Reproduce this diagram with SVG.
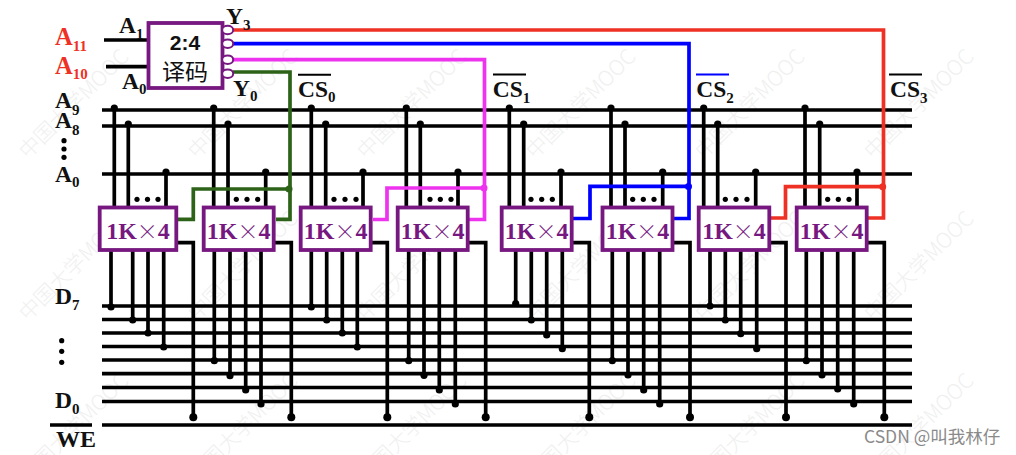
<svg xmlns="http://www.w3.org/2000/svg" width="1016" height="455" viewBox="0 0 1016 455">
<style>
.l{font-family:"Liberation Serif","Times New Roman",serif;font-weight:bold;fill:#111}
.a{font-size:23.5px}.s{font-size:15px}
.r{fill:#ee3124;font-size:24.5px}
.m{fill:#fff;stroke:#76187f;stroke-width:3.8}
.mt{font-family:"Liberation Serif",serif;font-weight:bold;font-size:24px;fill:#76187f;text-anchor:middle}
.x{font-family:"Noto Sans CJK SC",sans-serif;font-weight:300;font-size:21px}
.k{fill:none;stroke:#000;stroke-width:3.7}
.c{fill:none;stroke-width:3.7}
.d{fill:#000}
.wm{font-family:"Noto Sans CJK SC",sans-serif;font-weight:300;font-size:21px;fill:#f0f0f0}
</style>
<defs>
<text id="w" class="wm" transform="rotate(-45)">中国大学MOOC</text>
<circle id="p" r="3.6" class="d"/>
<circle id="q" r="4" class="d"/>
<circle id="e" r="2.6" class="d"/>
</defs>
<rect width="1016" height="455" fill="#fff"/>
<g id="watermark">
<use href="#w" transform="translate(28,160)"/><use href="#w" transform="translate(197,160)"/><use href="#w" transform="translate(366,160)"/><use href="#w" transform="translate(535,160)"/><use href="#w" transform="translate(704,160)"/><use href="#w" transform="translate(873,160)"/>
<use href="#w" transform="translate(28,322)"/><use href="#w" transform="translate(197,322)"/><use href="#w" transform="translate(366,322)"/><use href="#w" transform="translate(535,322)"/><use href="#w" transform="translate(704,322)"/><use href="#w" transform="translate(873,322)"/>
<use href="#w" transform="translate(28,484)"/><use href="#w" transform="translate(197,484)"/><use href="#w" transform="translate(366,484)"/><use href="#w" transform="translate(535,484)"/><use href="#w" transform="translate(704,484)"/><use href="#w" transform="translate(873,484)"/>
</g>
<g id="connectors">
<path class="k" d="M104 40H148M106 66.7H148"/>
<path class="k" d="M102 110H912M102 126H912M102 174H912"/>
<path class="k" d="M102 306H912M102 319.5H912M102 333H912M102 346.5H912M102 360H912M102 373.7H912M102 387.5H912M102 401.5H912M102 425H912"/>
<g id="address-pins">
<path class="k" d="M114.3 108V206M128.3 124V206M166 172V206M213.7 108V206M228 124V206M265.7 172V206M311.3 108V206M325.7 124V206M363 172V206M406.3 108V206M420.3 124V206M458 172V206M509.3 108V206M523.7 124V206M561 172V206M611 108V206M625 124V206M662.7 172V206M703.7 108V206M717.7 124V206M755.7 172V206M805 108V206M819.7 124V206M857 172V206"/>
<use href="#p" x="114.3" y="108"/><use href="#p" x="128.3" y="124"/><use href="#p" x="166" y="172"/>
<use href="#p" x="213.7" y="108"/><use href="#p" x="228" y="124"/><use href="#p" x="265.7" y="172"/>
<use href="#p" x="311.3" y="108"/><use href="#p" x="325.7" y="124"/><use href="#p" x="363" y="172"/>
<use href="#p" x="406.3" y="108"/><use href="#p" x="420.3" y="124"/><use href="#p" x="458" y="172"/>
<use href="#p" x="509.3" y="108"/><use href="#p" x="523.7" y="124"/><use href="#p" x="561" y="172"/>
<use href="#p" x="611" y="108"/><use href="#p" x="625" y="124"/><use href="#p" x="662.7" y="172"/>
<use href="#p" x="703.7" y="108"/><use href="#p" x="717.7" y="124"/><use href="#p" x="755.7" y="172"/>
<use href="#p" x="805" y="108"/><use href="#p" x="819.7" y="124"/><use href="#p" x="857" y="172"/>
</g>
<g id="ellipsis-dots">
<use href="#e" x="137" y="199.3"/><use href="#e" x="147.5" y="199.3"/><use href="#e" x="158" y="199.3"/>
<use href="#e" x="236.3" y="199.3"/><use href="#e" x="247" y="199.3"/><use href="#e" x="257.7" y="199.3"/>
<use href="#e" x="334" y="199.3"/><use href="#e" x="345" y="199.3"/><use href="#e" x="356" y="199.3"/>
<use href="#e" x="430" y="199.3"/><use href="#e" x="440.3" y="199.3"/><use href="#e" x="451" y="199.3"/>
<use href="#e" x="531" y="199.3"/><use href="#e" x="541.7" y="199.3"/><use href="#e" x="552.3" y="199.3"/>
<use href="#e" x="632.7" y="199.3"/><use href="#e" x="643.3" y="199.3"/><use href="#e" x="654" y="199.3"/>
<use href="#e" x="725.3" y="199.3"/><use href="#e" x="736" y="199.3"/><use href="#e" x="747" y="199.3"/>
<use href="#e" x="827.7" y="199.3"/><use href="#e" x="838.3" y="199.3"/><use href="#e" x="849" y="199.3"/>
</g>
<g id="data-pins">
<path class="k" d="M111 250V307M132.7 250V320M148 250V333M163.7 250V347M214.3 250V360.7M230 250V375.7M245.7 250V390M261 250V404M311.3 250V307M326.7 250V320M342.3 250V333M357.3 250V347M408.7 250V360.7M424 250V375.3M439.3 250V390M455.3 250V404M515.7 250V303.5M531.3 250V320M546.7 250V335M562.3 250V348.7M612.3 250V360.7M628 250V375M643.7 250V390M659.7 250V404M710 250V306M725.3 250V320M740.7 250V333.7M756.7 250V348.7M806.3 250V360.7M822 250V375M837.7 250V389M853.7 250V404"/>
<use href="#p" x="111" y="307"/><use href="#p" x="132.7" y="320"/><use href="#p" x="148" y="333"/><use href="#p" x="163.7" y="347"/>
<use href="#p" x="214.3" y="360.7"/><use href="#p" x="230" y="375.7"/><use href="#p" x="245.7" y="390"/><use href="#p" x="261" y="404"/>
<use href="#p" x="311.3" y="307"/><use href="#p" x="326.7" y="320"/><use href="#p" x="342.3" y="333"/><use href="#p" x="357.3" y="347"/>
<use href="#p" x="408.7" y="360.7"/><use href="#p" x="424" y="375.3"/><use href="#p" x="439.3" y="390"/><use href="#p" x="455.3" y="404"/>
<use href="#p" x="515.7" y="303.5"/><use href="#p" x="531.3" y="320"/><use href="#p" x="546.7" y="335"/><use href="#p" x="562.3" y="348.7"/>
<use href="#p" x="612.3" y="360.7"/><use href="#p" x="628" y="375"/><use href="#p" x="643.7" y="390"/><use href="#p" x="659.7" y="404"/>
<use href="#p" x="710" y="306"/><use href="#p" x="725.3" y="320"/><use href="#p" x="740.7" y="333.7"/><use href="#p" x="756.7" y="348.7"/>
<use href="#p" x="806.3" y="360.7"/><use href="#p" x="822" y="375"/><use href="#p" x="837.7" y="389"/><use href="#p" x="853.7" y="404"/>
</g>
<g id="we-pins">
<path class="k" d="M177 242.7H193.3V417M275 242.7H291.3V417M372 242.7H387.3V417M468 242.7H485.7V417M572 242.7H589.3V417M673 242.7H690V417M770 242.7H786V417M867 242.7H884.3V417"/>
<use href="#q" x="193.3" y="417.3"/><use href="#q" x="291.3" y="417.3"/><use href="#q" x="387.3" y="417.3"/><use href="#q" x="485.7" y="417.3"/><use href="#q" x="589.3" y="417.3"/><use href="#q" x="690" y="417.3"/><use href="#q" x="786" y="417.3"/><use href="#q" x="884.3" y="417.3"/>
</g>
<g id="cs-lines">
<path class="c" stroke="#ee3124" d="M233 30H883.5V218H868M883 186.7H785.5V218H771"/>
<path class="c" stroke="#0000ff" d="M233 43.7H689V218.5H674M689 186.3H590V218.5H573"/>
<path class="c" stroke="#ee33ee" d="M233 59.7H484.5V219.5H469M484.5 188H387V219.5H373"/>
<path class="c" stroke="#2d6318" d="M233 72H290V219.3H276M290 189H193.3V219.3H178"/>
<circle cx="882.7" cy="186.7" r="3.5" fill="#ee3124"/>
<circle cx="688.5" cy="186.5" r="3.5" fill="#0000ff"/>
<circle cx="484" cy="188" r="3.5" fill="#ee33ee"/>
<circle cx="289" cy="189" r="3.5" fill="#2d6318"/>
</g>
</g>
<g id="decoder">
<rect class="m" x="148.5" y="23" width="74" height="65"/>
<ellipse cx="227.7" cy="30" rx="5.5" ry="4.3" fill="#fff" stroke="#76187f" stroke-width="2"/>
<ellipse cx="227.7" cy="43.7" rx="5.5" ry="4.3" fill="#fff" stroke="#76187f" stroke-width="2"/>
<ellipse cx="227.7" cy="59.7" rx="5.5" ry="4.3" fill="#fff" stroke="#76187f" stroke-width="2"/>
<ellipse cx="227.7" cy="73.7" rx="5.5" ry="4.3" fill="#fff" stroke="#76187f" stroke-width="2"/>
<text x="185" y="50" text-anchor="middle" font-family="Liberation Sans,Arial,sans-serif" font-weight="bold" font-size="21" fill="#111">2:4</text>
<text x="185" y="80" text-anchor="middle" font-family="Noto Sans CJK SC,sans-serif" font-size="23" fill="#111">译码</text>
</g>
<g id="m0"><rect class="m" x="99.7" y="207.5" width="76.6" height="42.5"/><text class="mt" x="138" y="238.5">1K<tspan class="x">×</tspan>4</text></g>
<g id="m1"><rect class="m" x="203.7" y="207.5" width="70" height="42.5"/><text class="mt" x="238.7" y="238.5">1K<tspan class="x">×</tspan>4</text></g>
<g id="m2"><rect class="m" x="300.7" y="207.5" width="70" height="42.5"/><text class="mt" x="335.7" y="238.5">1K<tspan class="x">×</tspan>4</text></g>
<g id="m3"><rect class="m" x="397.7" y="207.5" width="70" height="42.5"/><text class="mt" x="432.7" y="238.5">1K<tspan class="x">×</tspan>4</text></g>
<g id="m4"><rect class="m" x="501.7" y="207.5" width="70" height="42.5"/><text class="mt" x="536.7" y="238.5">1K<tspan class="x">×</tspan>4</text></g>
<g id="m5"><rect class="m" x="602.5" y="207.5" width="70" height="42.5"/><text class="mt" x="637.5" y="238.5">1K<tspan class="x">×</tspan>4</text></g>
<g id="m6"><rect class="m" x="698.7" y="207.5" width="70.6" height="42.5"/><text class="mt" x="734" y="238.5">1K<tspan class="x">×</tspan>4</text></g>
<g id="m7"><rect class="m" x="796.7" y="207.5" width="70" height="42.5"/><text class="mt" x="831.7" y="238.5">1K<tspan class="x">×</tspan>4</text></g>
<g id="labels">
<text class="l r" x="55" y="45">A<tspan class="s" dy="6">11</tspan></text>
<text class="l r" x="55" y="74">A<tspan class="s" dy="5">10</tspan></text>
<text class="l a" x="119" y="33">A<tspan class="s" dy="6">1</tspan></text>
<text class="l a" x="122" y="89">A<tspan class="s" dy="5">0</tspan></text>
<text class="l a" x="226" y="24">Y<tspan class="s" dy="6">3</tspan></text>
<text class="l a" x="233" y="96">Y<tspan class="s" dy="5">0</tspan></text>
<text class="l a" x="55" y="108">A<tspan class="s" dy="7">9</tspan></text>
<text class="l a" x="55" y="128">A<tspan class="s" dy="7">8</tspan></text>
<text class="l a" x="55" y="182">A<tspan class="s" dy="5">0</tspan></text>
<text class="l a" x="55" y="304">D<tspan class="s" dy="6">7</tspan></text>
<text class="l a" x="55" y="408">D<tspan class="s" dy="6">0</tspan></text>
<text class="l" font-size="24" x="56" y="447">WE</text>
<text class="l a" x="298" y="97">CS<tspan class="s" dy="5">0</tspan></text>
<text class="l a" x="492.7" y="97">CS<tspan class="s" dy="6">1</tspan></text>
<text class="l a" x="696.3" y="97">CS<tspan class="s" dy="6">2</tspan></text>
<text class="l a" x="890" y="97">CS<tspan class="s" dy="6">3</tspan></text>
<path stroke="#000" stroke-width="2" d="M298 74.7H331M493 74.5H526M889 74.5H922"/>
<path stroke="#0000ff" stroke-width="2" d="M696 74.5H729"/>
<path stroke="#000" stroke-width="3.5" d="M50 425H92"/>
<use href="#e" x="64" y="140.7"/><use href="#e" x="64" y="149"/><use href="#e" x="64" y="157.3"/>
<use href="#e" x="61.7" y="340.7"/><use href="#e" x="61.7" y="351.3"/><use href="#e" x="61.7" y="362.3"/>
<text x="864" y="443" font-family="Noto Sans CJK SC,sans-serif" font-size="17.5" fill="#8a8a8a">CSDN @叫我林仔</text>
</g>
</svg>
